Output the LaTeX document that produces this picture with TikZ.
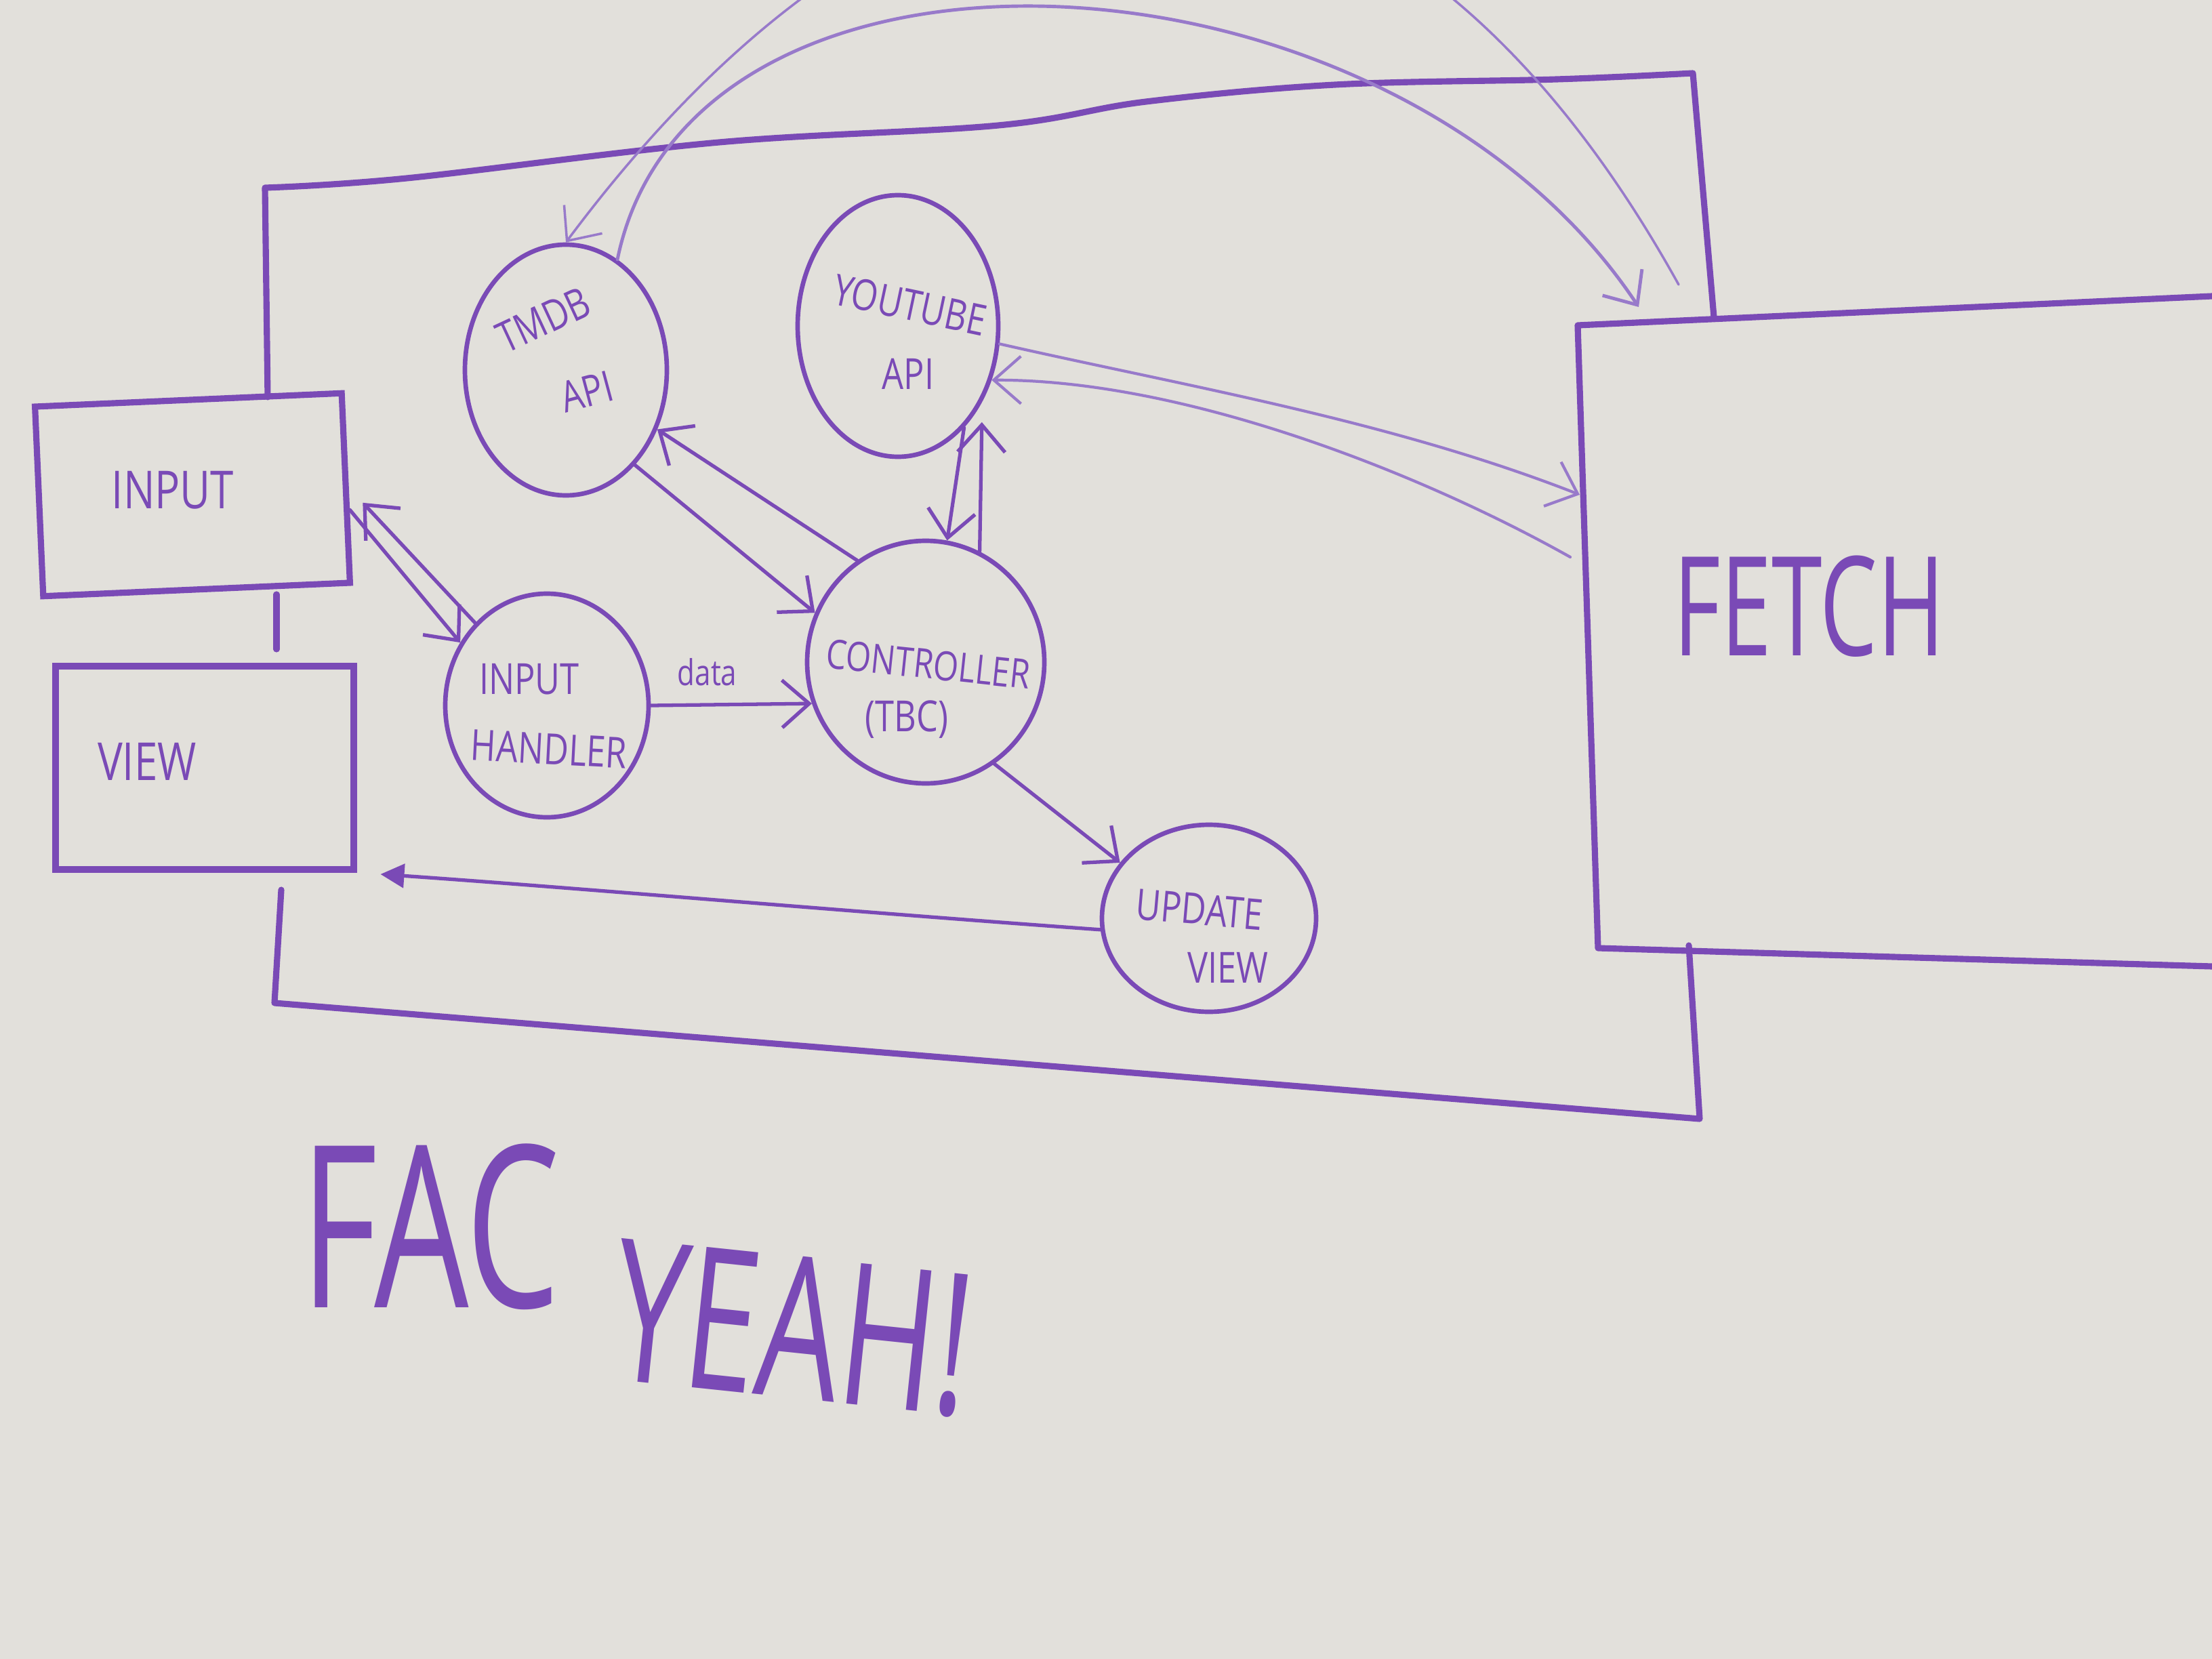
\documentclass[tikz,border=0pt]{standalone}
\usepackage{fontspec}
\setmainfont{Open Sans}
\newfontfamily\handfont[FakeStretch=0.8]{Open Sans}
\newfontfamily\bigfont[FakeStretch=0.66]{Open Sans}
\usetikzlibrary{arrows.meta,shapes.geometric}

\definecolor{board}{RGB}{226,224,219}
\definecolor{ink}{RGB}{122,74,182}
\definecolor{inkpale}{RGB}{152,122,202}

\tikzset{
  frame/.style={draw=ink, line width=2.6pt, line cap=round, line join=round},
  box/.style={rectangle, draw=ink, line width=2.6pt, inner sep=0pt},
  bubble/.style={ellipse, draw=ink, line width=1.9pt, inner sep=0pt},
  wire/.style={draw=ink, line width=1.5pt, line cap=round,
    -{Straight Barb[length=4mm,width=7mm]}},
  thinwire/.style={wire, draw=inkpale, line width=1.2pt},
  scrawl/.style={text=ink, inner sep=0pt, font=\handfont\fontsize{18}{20}\selectfont},
  shout/.style={text=ink, inner sep=0pt},
}

\begin{document}
\begin{tikzpicture}[x=1cm,y=-1cm]
\useasboundingbox (0,0) rectangle (32.64,24.48);
\fill[board] (0,0) rectangle (32.64,24.48);
\clip (0,0) rectangle (32.64,24.48);

% left boxes
\node[box, minimum width=4.53cm, minimum height=2.8cm, rotate=2.5] (input) at (2.84,7.30) {};
\node[box, minimum width=4.4cm, minimum height=3.0cm] (view) at (3.02,11.33) {};
\node[scrawl, font=\handfont\fontsize{22}{24}\selectfont] (inputtxt) at (2.55,7.23) {INPUT};
\node[scrawl, font=\handfont\fontsize{22}{24}\selectfont] (viewtxt) at (2.17,11.24) {VIEW};

% bubbles
\node[bubble, minimum width=2.98cm, minimum height=3.70cm] (tmdb) at (8.35,5.46) {};
\node[bubble, minimum width=2.96cm, minimum height=3.86cm] (yt) at (13.25,4.81) {};
\node[bubble, minimum width=3.00cm, minimum height=3.30cm] (handler) at (8.07,10.41) {};
\node[bubble, minimum width=3.50cm, minimum height=3.58cm] (ctrl) at (13.66,9.77) {};
\node[bubble, minimum width=3.16cm, minimum height=2.76cm] (upd) at (17.84,13.55) {};

\node[scrawl, rotate=25] (tmdbA) at (8.02,4.72) {TMDB};
\node[scrawl, rotate=15] (tmdbB) at (8.66,5.78) {API};
\node[scrawl, rotate=-12] (ytA) at (13.43,4.50) {YOUTUBE};
\node[scrawl] (ytB) at (13.40,5.52) {API};
\node[scrawl] (handlerA) at (7.81,10.02) {INPUT};
\node[scrawl, rotate=-3] (handlerB) at (8.10,11.05) {HANDLER};
\node[scrawl, font=\handfont\fontsize{17}{19}\selectfont, rotate=-6] (ctrlA) at (13.70,9.80) {CONTROLLER};
\node[scrawl] (ctrlB) at (13.38,10.62) {(TBC)};
\node[scrawl, rotate=-5] (updA) at (17.70,13.42) {UPDATE};
\node[scrawl] (updB) at (18.12,14.28) {VIEW};

% fetch box, open to the right
\draw[frame] (32.64,4.37) -- (23.28,4.80) -- (23.58,13.99) -- (32.64,14.26);
\node[shout, font=\bigfont\fontsize{58}{60}\selectfont] (fetch) at (26.70,8.95) {FETCH};
\coordinate (fetchin) at (23.31,7.30);
\coordinate (fetchout) at (23.17,8.22);
\coordinate (fetchtop) at (24.18,4.53);
\coordinate (fetchloop) at (24.77,4.20);

% outer frame
\draw[frame] (3.95,5.86) -- plot[smooth, tension=0.6] coordinates {(3.91,2.77) (6.00,2.63) (10.61,2.10) (14.73,1.85) (16.91,1.50) (19.70,1.25) (22.97,1.17) (24.98,1.08)} -- (25.29,4.68);
\draw[frame] (4.08,8.77) -- (4.08,9.58);
\draw[frame] (4.15,13.13) -- (4.05,14.80) -- (25.08,16.51) -- (24.92,13.95);

% connectors
\draw[wire] (input.-8) -- (handler.144);
\draw[wire, shorten >=3mm] (handler.131) -- (input.east);
\draw[wire] (handler.east) -- node[scrawl, font=\handfont\fontsize{15}{17}\selectfont, above=2.5mm, pos=0.35] (datatxt) {data} (ctrl.200);
\draw[wire] (tmdb.-54) -- (ctrl.156);
\draw[wire] (ctrl.124) -- (tmdb.-33);
\draw[wire] (yt.-57) -- (ctrl.80);
\draw[wire, shorten >=3mm] (ctrl.64) -- (yt.-42);
\draw[wire] (ctrl.-56) -- (upd.148);
\draw[wire, -{Triangle[length=3.5mm,width=3.5mm]}, shorten >=3.5mm] (upd.186) .. controls (12.5,13.45) and (8.5,13.1) .. (view.south east);

\draw[thinwire] (yt.-10) .. controls (17.5,5.7) and (20.5,6.2) .. (fetchin);
\draw[thinwire] (fetchout) .. controls (21.0,7.0) and (17.5,5.6) .. (yt.-30);

% the two loops over the top
\draw[wire, draw=inkpale, line width=1.4pt] (tmdb.65) .. controls (10.2,-1.5) and (20.5,-1.0) .. (fetchtop);
\draw[thinwire, line width=1pt] (fetchloop) .. controls (20.5,-3.5) and (14.0,-4.0) .. (tmdb.north);

% scrawl underneath
\node[shout, font=\bigfont\fontsize{95}{100}\selectfont] (fac) at (6.35,18.10) {FAC};
\node[shout, font=\bigfont\fontsize{83}{88}\selectfont, rotate=-6] (yeah) at (11.70,19.60) {YEAH!};
\end{tikzpicture}
\end{document}
